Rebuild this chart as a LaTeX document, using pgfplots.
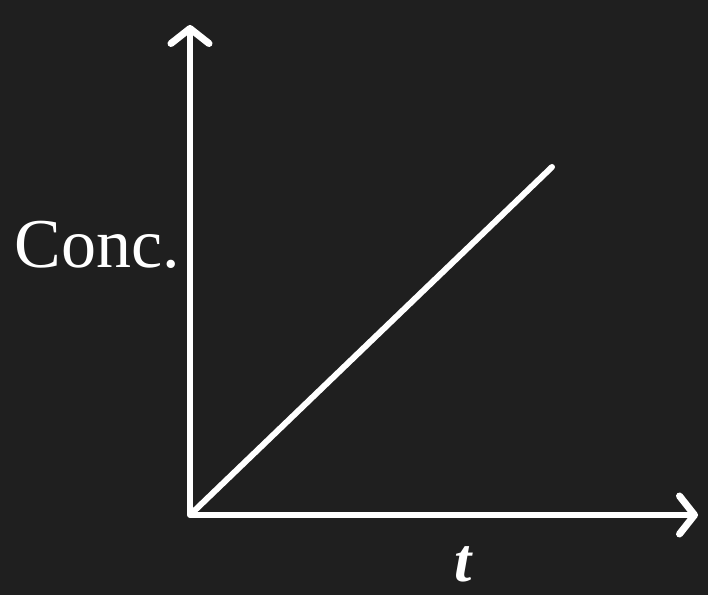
\documentclass[border=0pt]{standalone}
\usepackage{pgfplots}
\pgfplotsset{compat=1.18}
\usetikzlibrary{arrows.meta}
\usepackage{fontspec}
\setmainfont{Liberation Serif}
\definecolor{bg}{HTML}{1F1F1F}
\begin{document}
\begin{tikzpicture}[x=1pt,y=1pt]
  % dark canvas, 708 x 595
  \fill[bg] (0,0) rectangle (708,595);
  \useasboundingbox (0,0) rectangle (708,595);
  \begin{axis}[
    at={(190pt,80pt)}, anchor=south west,
    scale only axis,
    width=508pt, height=490pt,
    xmin=0, xmax=508, ymin=0, ymax=490,
    axis lines=left,
    axis line style={white, line width=6pt,
      -{Straight Barb[length=15pt, width=38pt, line width=7pt, round]}},
    xtick=\empty, ytick=\empty,
    clip=false,
  ]
    % concentration rising linearly with time
    \addplot[white, line width=6pt, line cap=round] coordinates {(0,0) (362,348)};
    \node[white, anchor=east, font=\fontsize{70}{80}\selectfont, inner sep=0pt]
      at (axis cs:-10,270) {Conc.};
    \node[white, anchor=base, font=\fontsize{62}{72}\selectfont\itshape\bfseries, inner sep=0pt]
      at (axis cs:273,-66) {t};
  \end{axis}
\end{tikzpicture}
\end{document}
